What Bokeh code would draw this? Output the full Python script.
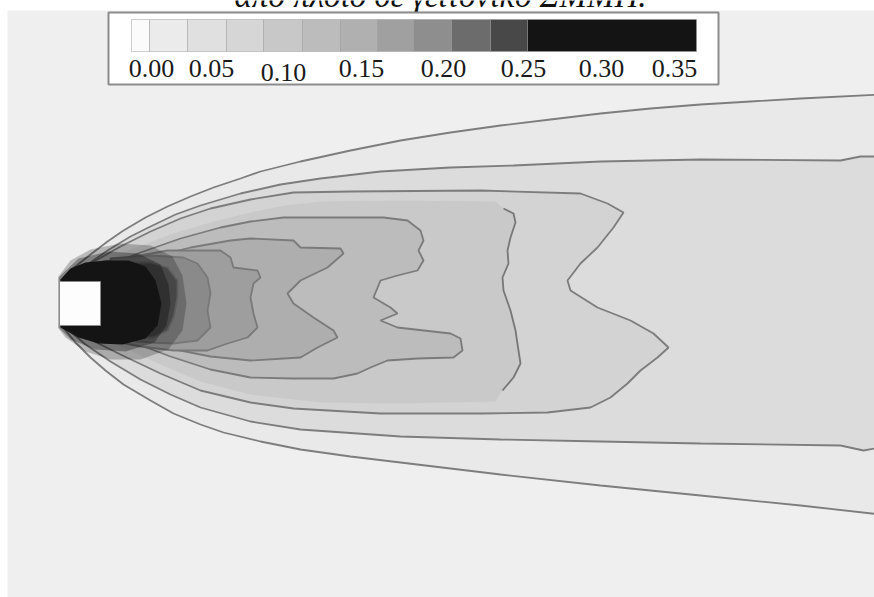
from bokeh.plotting import figure
from bokeh.models import Range1d, ColumnDataSource
from bokeh.core.properties import value
from bokeh.embed import file_html
from bokeh.resources import INLINE

# ---------------- data ----------------
caption = "από πλοίο σε γειτονικό ΣΜΜΠ."

tick_values = [0.00, 0.05, 0.10, 0.15, 0.20, 0.25, 0.30, 0.35]
tick_labels = ["0.00", "0.05", "0.10", "0.15", "0.20", "0.25", "0.30", "0.35"]

# colour-bar classes (lower bound of each class) and their greys
class_lower = [0.000, 0.010, 0.030, 0.050, 0.070, 0.090, 0.110, 0.130, 0.150, 0.180, 0.220, 0.250]
class_grey = ["#fbfbfb", "#ebebeb", "#e0e0e0", "#d6d6d6", "#c8c8c8", "#bcbcbc",
              "#b0b0b0", "#a0a0a0", "#8e8e8e", "#6c6c6c", "#484848", "#141414"]

# obstacle (image units: x downstream, y cross-stream, y grows downwards)
obstacle_x = [59, 100]
obstacle_y = [281, 325]

# digitised iso-concentration outlines, outermost first
c1 = [(61,281),(70,270),(80,262),(90,254),(107,241),(123,230),(145,217),(167,206),(190,196),
      (213,187),(240,178),(260,171),(300,161),(350,150),(400,140),(450,132),(500,125),(550,119),
      (600,113),(650,108),(700,104),(750,101),(800,98),(880,94),
      (880,514),(800,505),(700,495),(600,485),(500,474),(400,462),(350,456),(300,449),(260,441),
      (223,432),(200,424),(173,413),(150,400),(123,384),(105,370),(90,357),(75,342),(61,325)]
c2 = [(63,282),(80,269),(107,250),(130,236),(150,226),(175,214),(200,205),(240,193),(280,184),
      (320,178),(380,171),(450,167),(513,165),(600,161),(700,159),(840,160),(860,156),(880,156),
      (880,447),(863,450),(840,445),(700,443),(600,441),(500,439),(400,436),(300,429),(250,421),
      (200,407),(170,394),(140,379),(110,361),(85,344),(63,325)]
c3 = [(65,283),(90,263),(120,246),(150,231),(180,218),(210,208),(250,199),(293,192),(350,191),
      (480,190),(580,193),(607,203),(623,212),(613,227),(597,247),(580,263),(567,280),(570,290),
      (597,307),(630,320),(653,333),(668,347),(657,357),(640,370),(627,383),(610,397),(590,407),
      (547,412),(480,413),(380,413),(293,408),(250,402),(200,390),(160,373),(120,354),(90,339),(65,325)]
c4_top = [(66,284),(95,266),(130,249),(170,234),(210,222),(250,212),(285,205),(320,201),(400,200),(495,201)]
c4_front = [(503,208),(513,213),(515,222),(510,237),(507,250),(508,263),(502,277),(503,290),
            (510,310),(515,330),(518,350),(520,363),(513,377),(502,390)]
c4_bottom = [(495,401),(400,403),(320,402),(250,394),(200,381),(160,364),(120,346),(90,334),(66,324)]
c5 = [(67,285),(100,268),(140,252),(180,238),(220,227),(250,221),(283,217),(383,217),(407,220),
      (420,230),(423,240),(418,250),(423,260),(417,270),(397,275),(380,280),(373,297),(390,307),
      (397,313),(380,320),(397,327),(450,333),(460,338),(462,350),(453,357),(417,358),(387,360),
      (370,367),(357,373),(333,378),(293,378),(250,377),(210,369),(170,356),(130,341),(100,331),(67,323)]
c6 = [(69,287),(110,270),(150,257),(190,247),(230,240),(250,238),(293,240),(300,247),(340,248),
      (343,253),(327,267),(300,280),(287,293),(293,303),(313,317),(333,330),(337,337),(317,347),
      (300,357),(250,360),(210,356),(170,348),(130,337),(100,328),(69,321)]
c7 = [(100,262),(140,255),(167,250),(200,250),(220,250),(230,257),(233,267),(257,270),(260,277),
      (253,283),(250,297),(253,313),(257,327),(247,337),(227,343),(207,350),(173,350),(140,346),(100,338)]
c8 = [(110,258),(150,255),(183,257),(197,263),(207,277),(210,293),(207,310),(210,327),(197,340),
      (173,343),(150,342),(110,338)]
c9 = [(120,262),(150,262),(167,267),(177,280),(177,297),(173,317),(167,330),(153,337),(130,338),(120,338)]
c10 = [(60,279),(70,268),(85,262),(105,260),(128,260),(145,266),(155,280),(161,303),(157,325),
       (145,338),(122,344),(98,343),(78,337),(60,327)]
# diffuse dark smear around the core
smear_outer = [(58,276),(70,260),(90,249),(120,243),(150,245),(172,256),(182,275),(186,303),
               (182,330),(168,349),(140,359),(110,359),(85,351),(65,337),(58,328)]
smear_inner = [(58,277),(78,258),(108,251),(138,253),(160,264),(168,284),(170,303),(166,325),
               (154,342),(125,351),(95,349),(70,339),(58,327)]

# greys of the filled regions c1 ... c10 as they appear in the field
region_fill = ["#e9e9e9", "#dcdcdc", "#d3d3d3", "#c9c9c9", "#bcbcbc", "#aeaeae",
               "#9e9e9e", "#8a8a8a", "#5a5a5a", "#141414"]

# ---------------- layout / style ----------------
W, H = 874, 597
p = figure(width=W, height=H, output_backend="svg", toolbar_location=None,
           x_range=Range1d(0, W), y_range=Range1d(H, 0),
           x_axis_location=None, y_axis_location=None, min_border=0,
           background_fill_color="#ffffff", border_fill_color="#ffffff")
p.grid.visible = False
p.outline_line_color = None

# plot field background
p.quad(left=[7], right=[W + 5], top=[10], bottom=[H + 5], fill_color="#efefef", line_color=None)

def xs(pts):
    return [a for a, b in pts]

def ys(pts):
    return [b for a, b in pts]

LINE = "#777777"
outlined = [True, True, True, False, True, True, True, True, True, False]
regions = [c1, c2, c3, c4_top + c4_front + c4_bottom, c5, c6, c7, c8, c9, c10]
for i, reg in enumerate(regions):
    if i == 9:
        p.patch(xs(smear_outer), ys(smear_outer), fill_color="#000000", fill_alpha=0.22, line_color=None)
        p.patch(xs(smear_inner), ys(smear_inner), fill_color="#000000", fill_alpha=0.3, line_color=None)
    p.patch(xs(reg), ys(reg), fill_color=region_fill[i],
            line_color=LINE if outlined[i] else None, line_width=1.8, line_alpha=0.95)
    if i == 3:
        p.line(xs(c4_front), ys(c4_front), line_color=LINE, line_width=1.8)

# obstacle
p.quad(left=[obstacle_x[0]], right=[obstacle_x[1]], top=[obstacle_y[0]], bottom=[obstacle_y[1]],
       fill_color="#fdfdfd", line_color="#8a8a8a", line_width=1)

# caption, cut by the top edge as in the source figure
p.text(x=[440], y=[-23], text=[caption], text_align="center", text_baseline="top",
       text_font=value("Liberation Serif"), text_font_style="italic", text_font_size="33px",
       text_color="#111111")

# legend box
p.quad(left=[108], right=[718], top=[12], bottom=[84], fill_color="#ffffff",
       line_color="#8c8c8c", line_width=2)
edges = [131, 149, 187, 226, 263, 302, 340, 377, 413, 451, 490, 527, 696]
p.quad(left=edges[:-1], right=edges[1:], top=[19] * len(class_grey), bottom=[51] * len(class_grey),
       fill_color=class_grey, line_color="#9a9a9a", line_width=0.8, line_alpha=0.6)

tick_px = [151, 211, 283, 361, 443, 523, 601, 674]
tick_dy = [0, 0, 4, 0, 0, 0, 0, 0]
lab = ColumnDataSource(dict(x=tick_px, y=[68 + d for d in tick_dy], t=tick_labels))
p.text(x="x", y="y", text="t", source=lab, text_align="center", text_baseline="middle",
       text_font=value("Liberation Serif"), text_font_size="26px", text_color="#1a1a1a")

open("out.html", "w").write(file_html(p, INLINE))
